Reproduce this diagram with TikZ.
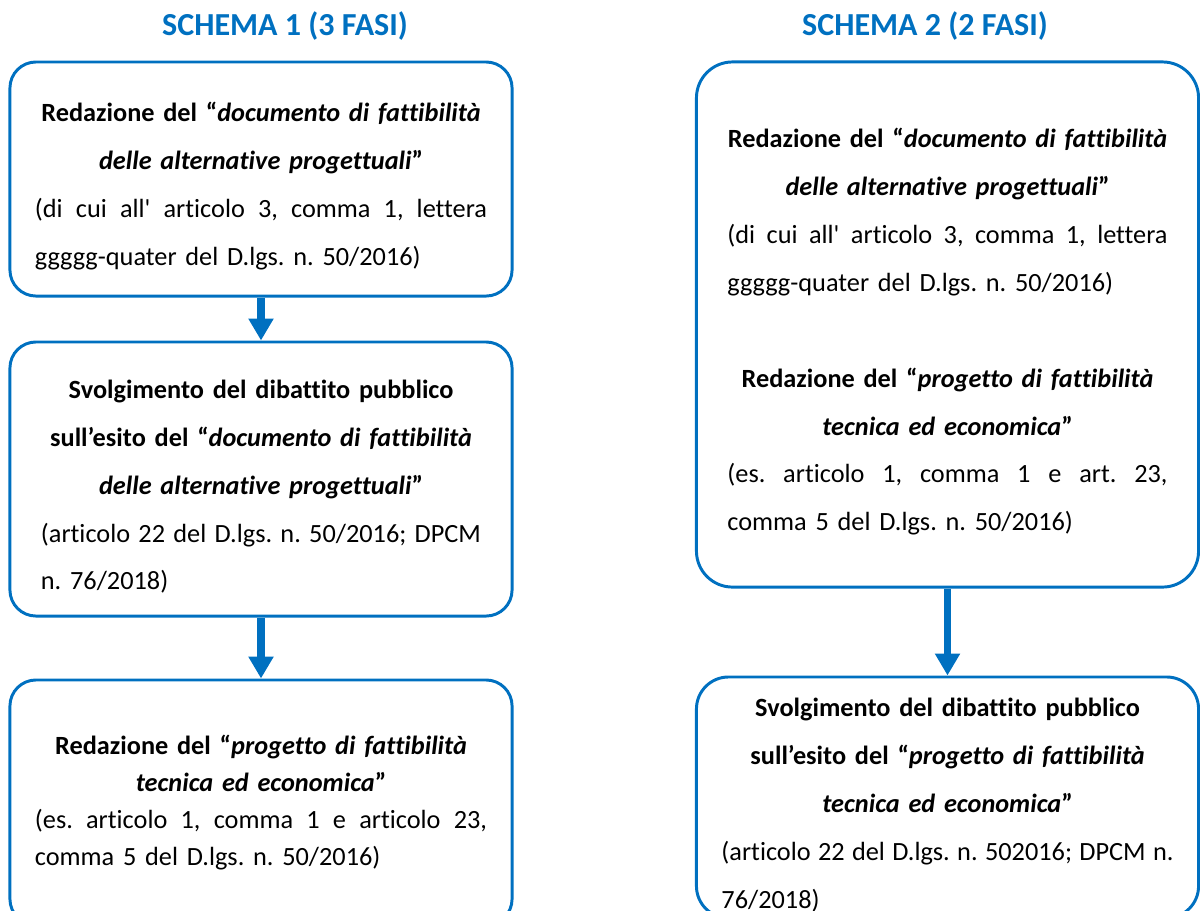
\documentclass[tikz,border=0pt]{standalone}
\usepackage{fontspec}
\defaultfontfeatures[\rmfamily]{Ligatures=NoCommon}
\setmainfont{Carlito}
\frenchspacing
\usetikzlibrary{positioning}
\usetikzlibrary{arrows.meta}
\definecolor{schemablu}{RGB}{0,112,192}
\newcommand{\primalinea}{\rule{0pt}{24pt}}
\newcommand{\riga}[1]{\makebox[\hsize][s]{\mdseries\spaceskip=\fontdimen2\font plus 1fil\relax #1}}
\newcommand{\ultima}[1]{\makebox[\hsize][l]{\mdseries #1}}
\tikzset{
  fase/.style={draw=schemablu, line width=2.1pt, rounded corners=0.65cm, inner sep=0pt,
    minimum width=12.55cm, align=center, font=\bfseries\fontsize{18.7}{34.1}\selectfont},
  titolo/.style={text=schemablu, anchor=base, font=\bfseries\fontsize{22.8}{27}\selectfont},
  freccia/.style={draw=schemablu, line width=5pt, -{Triangle[width=17pt,length=15.6pt]}}
}

\begin{document}
\begin{tikzpicture}[x=0.025cm, y=-0.025cm]
  \useasboundingbox (0,0) rectangle (1200,910);
  \clip (0,0) rectangle (1200,910);

  % titoli
  \node [titolo] (titolo1) at (285,35) {SCHEMA 1 (3 FASI)};
  \node [titolo] (titolo2) at (925,35) {SCHEMA 2 (2 FASI)};

  % schema 1
  \node [fase, text width=11.3cm, minimum height=5.85cm] (doc1) at (261,179)
    {\primalinea Redazione del “\textit{documento di fattibilità}\\
     \textit{delle alternative progettuali}”\\
     \riga{(di cui all' articolo 3, comma 1, lettera}\\
     \ultima{ggggg-quater del D.lgs. n. 50/2016)}};
  \node [fase, text width=11cm, minimum height=6.85cm] (dibattito1) at (261,479)
    {\primalinea Svolgimento del dibattito pubblico\\
     sull’esito del “\textit{documento di fattibilità}\\
     \textit{delle alternative progettuali}”\\
     \riga{(articolo 22 del D.lgs. n. 50/2016; DPCM}\\
     \ultima{n. 76/2018)}};
  \node [fase, text width=11.3cm, minimum height=6.125cm,
         font=\bfseries\fontsize{18.7}{26.1}\selectfont] (progetto1) at (261,802.5)
    {Redazione del “\textit{progetto di fattibilità}\\
     \textit{tecnica ed economica}”\\
     \riga{(es. articolo 1, comma 1 e articolo 23,}\\
     \ultima{comma 5 del D.lgs. n. 50/2016)}};

  % schema 2
  \node [fase, text width=11cm, minimum height=13.125cm, rounded corners=0.9cm] (doc2) at (947.5,324.5)
    {\primalinea Redazione del “\textit{documento di fattibilità}\\
     \textit{delle alternative progettuali}”\\
     \riga{(di cui all' articolo 3, comma 1, lettera}\\
     \ultima{ggggg-quater del D.lgs. n. 50/2016)}\\[34.1pt]
     Redazione del “\textit{progetto di fattibilità}\\
     \textit{tecnica ed economica}”\\
     \riga{(es. articolo 1, comma 1 e art. 23,}\\
     \ultima{comma 5 del D.lgs. n. 50/2016)}};
  \node [fase, text width=11.3cm, minimum height=6.025cm, rounded corners=0.8cm] (dibattito2) at (947.5,797.5)
    {\primalinea Svolgimento del dibattito pubblico\\
     sull’esito del “\textit{progetto di fattibilità}\\
     \textit{tecnica ed economica}”\\
     \riga{(articolo 22 del D.lgs. n. 502016; DPCM n.}\\
     \ultima{76/2018)}};

  % frecce
  \draw [freccia] (doc1) -- (dibattito1);
  \draw [freccia] (dibattito1) -- (progetto1);
  \draw [freccia] (doc2) -- (dibattito2);
\end{tikzpicture}
\end{document}
